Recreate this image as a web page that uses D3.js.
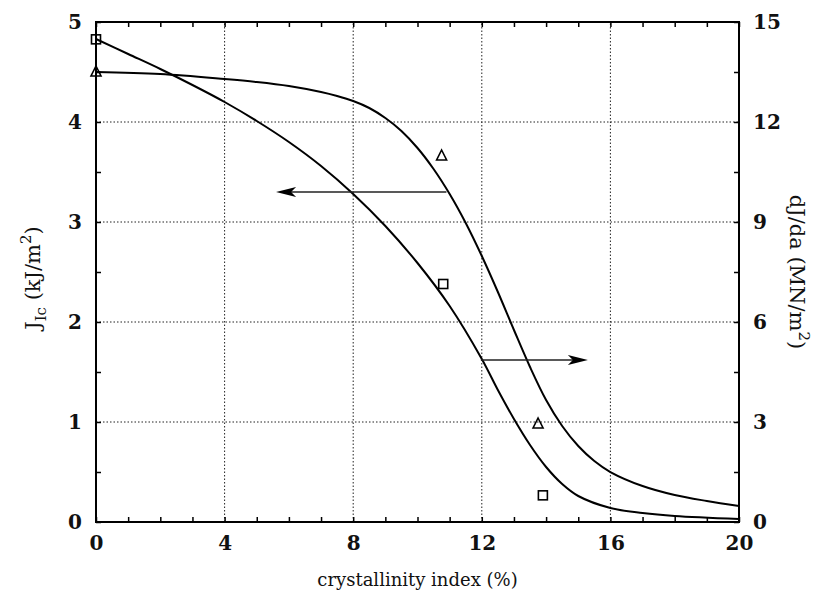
<!DOCTYPE html>
<html><head><meta charset="utf-8">
<script src="https://cdn.jsdelivr.net/npm/d3@7"></script>
<style>body{margin:0;background:#fff}svg{display:block}</style>
</head><body>
<svg id="c" width="823" height="609"></svg>
<script>
// Data
const xTicks = [0, 4, 8, 12, 16, 20];
const yLeftTicks = [0, 1, 2, 3, 4, 5];
const yRightTicks = [0, 3, 6, 9, 12, 15];
// J_Ic fitted curve (left axis, kJ/m^2)
const curveJx = [0, 2, 4, 5, 6, 7, 7.5, 8, 8.5, 9, 9.5, 10, 10.5, 11, 11.5, 12, 12.5, 13, 13.5, 14, 14.5, 15, 15.5, 16, 17, 18, 19, 20];
const curveJy = [4.5, 4.48, 4.43, 4.4, 4.36, 4.3, 4.26, 4.21, 4.14, 4.04, 3.91, 3.74, 3.53, 3.28, 2.99, 2.66, 2.3, 1.92, 1.55, 1.22, 0.96, 0.76, 0.61, 0.5, 0.36, 0.27, 0.21, 0.16];
// dJ/da fitted curve (right axis, MN/m^2)
const curveDx = [0, 1, 2, 3, 4, 5, 6, 7, 8, 9, 10, 11, 12, 12.5, 13, 13.5, 14, 14.5, 15, 16, 17, 18, 20];
const curveDy = [14.49, 14.04, 13.59, 13.11, 12.6, 12.03, 11.4, 10.68, 9.84, 8.88, 7.77, 6.48, 4.89, 3.96, 3.09, 2.31, 1.65, 1.14, 0.78, 0.42, 0.27, 0.18, 0.09];
// measured points
const triX = [0, 10.75, 13.75];
const triY = [4.5, 3.66, 0.98];          // J_Ic (left axis)
const sqX = [0, 10.8, 13.9];
const sqY = [14.48, 7.14, 0.8];          // dJ/da (right axis)
// arrows: [x start, x end, y (left-axis units)]
const arrowLeft = [10.9, 5.6, 3.3];
const arrowRight = [11.97, 15.3, 1.62];

const svg = d3.select("#c");
const X0 = 96, X1 = 739, Y0 = 522, Y1 = 22;
const x = d3.scaleLinear().domain([0, 20]).range([X0, X1]);
const yL = d3.scaleLinear().domain([0, 5]).range([Y0, Y1]);
const yR = d3.scaleLinear().domain([0, 15]).range([Y0, Y1]);
const font = "'DejaVu Serif', 'Liberation Serif', serif";

// grid
const g = svg.append("g");
[4, 8, 12, 16].forEach(v => g.append("line").attr("x1", x(v)).attr("x2", x(v)).attr("y1", Y0).attr("y2", Y1)
  .attr("stroke", "#222").attr("stroke-width", 1).attr("stroke-dasharray", "1.5,2"));
[1, 2, 3, 4].forEach(v => g.append("line").attr("x1", X0).attr("x2", X1).attr("y1", yL(v)).attr("y2", yL(v))
  .attr("stroke", "#222").attr("stroke-width", 1).attr("stroke-dasharray", "1.5,2"));

// axes with inward ticks
const fmt = d3.format("d");
function styleAxis(sel) {
  sel.select(".domain").remove();
  sel.selectAll("line").attr("stroke", "#000").attr("stroke-width", 1.5);
  sel.selectAll("text").attr("font-family", font).attr("font-size", 20).attr("font-weight", "bold").attr("fill", "#111");
}
svg.append("g").attr("transform", `translate(0,${Y0})`)
  .call(d3.axisBottom(x).tickValues(d3.range(0, 21, 1)).tickSize(-5).tickPadding(14)
    .tickFormat(d => xTicks.includes(d) ? fmt(d) : ""))
  .call(styleAxis);
svg.append("g").attr("transform", `translate(0,${Y1})`)
  .call(d3.axisTop(x).tickValues(d3.range(0, 21, 1)).tickSize(-5).tickFormat(""))
  .call(styleAxis);
svg.append("g").attr("transform", `translate(${X0},0)`)
  .call(d3.axisLeft(yL).tickValues(d3.range(0, 5.01, 0.5)).tickSize(-5).tickPadding(14)
    .tickFormat(d => yLeftTicks.includes(d) ? fmt(d) : ""))
  .call(styleAxis);
svg.append("g").attr("transform", `translate(${X1},0)`)
  .call(d3.axisRight(yR).tickValues(d3.range(0, 15.01, 1.5)).tickSize(-5).tickPadding(14)
    .tickFormat(d => yRightTicks.includes(d) ? fmt(d) : ""))
  .call(styleAxis);

// frame
svg.append("rect").attr("x", X0).attr("y", Y1).attr("width", X1 - X0).attr("height", Y0 - Y1)
  .attr("fill", "none").attr("stroke", "#000").attr("stroke-width", 2);

// curves
const lineJ = d3.line().x(d => x(d[0])).y(d => yL(d[1])).curve(d3.curveCatmullRom.alpha(0.5));
const lineD = d3.line().x(d => x(d[0])).y(d => yR(d[1])).curve(d3.curveCatmullRom.alpha(0.5));
svg.append("path").attr("d", lineJ(curveJx.map((v, i) => [v, curveJy[i]])))
  .attr("fill", "none").attr("stroke", "#000").attr("stroke-width", 2);
svg.append("path").attr("d", lineD(curveDx.map((v, i) => [v, curveDy[i]])))
  .attr("fill", "none").attr("stroke", "#000").attr("stroke-width", 2);

// markers
triX.forEach((v, i) => {
  const cx = x(v), cy = yL(triY[i]);
  svg.append("path").attr("d", `M${cx},${cy - 6}L${cx + 5},${cy + 4}L${cx - 5},${cy + 4}Z`)
    .attr("fill", "none").attr("stroke", "#000").attr("stroke-width", 1.6);
});
sqX.forEach((v, i) => {
  const cx = x(v), cy = yR(sqY[i]);
  svg.append("rect").attr("x", cx - 4.5).attr("y", cy - 4.5).attr("width", 9).attr("height", 9)
    .attr("fill", "none").attr("stroke", "#000").attr("stroke-width", 1.6);
});

// arrows
function arrow(a) {
  const xs = x(a[0]), xe = x(a[1]), yy = yL(a[2]);
  const dir = xe > xs ? 1 : -1;
  svg.append("line").attr("x1", xs).attr("x2", xe - dir * 10).attr("y1", yy).attr("y2", yy)
    .attr("stroke", "#222").attr("stroke-width", 1.5);
  svg.append("path").attr("d", `M${xe},${yy}L${xe - dir * 20},${yy - 5}L${xe - dir * 15},${yy}L${xe - dir * 20},${yy + 5}Z`)
    .attr("fill", "#000");
}
arrow(arrowLeft);
arrow(arrowRight);

// titles
svg.append("text").attr("x", (X0 + X1) / 2 + 0).attr("y", 586).attr("text-anchor", "middle")
  .attr("font-family", font).attr("font-size", 18).attr("fill", "#111").text("crystallinity index (%)");

const tl = svg.append("text").attr("transform", "translate(40,278) rotate(-90)").attr("text-anchor", "middle")
  .attr("font-family", font).attr("font-size", 21).attr("fill", "#111");
tl.append("tspan").text("J");
tl.append("tspan").attr("font-size", 15).attr("dy", 6).text("Ic");
tl.append("tspan").attr("dy", -6).text(" (kJ/m");
tl.append("tspan").attr("font-size", 15).attr("dy", -9).text("2");
tl.append("tspan").attr("dy", 9).text(")");

const tr = svg.append("text").attr("transform", "translate(790,272) rotate(90)").attr("text-anchor", "middle")
  .attr("font-family", font).attr("font-size", 21).attr("fill", "#111");
tr.append("tspan").text("dJ/da (MN/m");
tr.append("tspan").attr("font-size", 15).attr("dy", -9).text("2");
tr.append("tspan").attr("dy", 9).text(")");
</script>
</body></html>
